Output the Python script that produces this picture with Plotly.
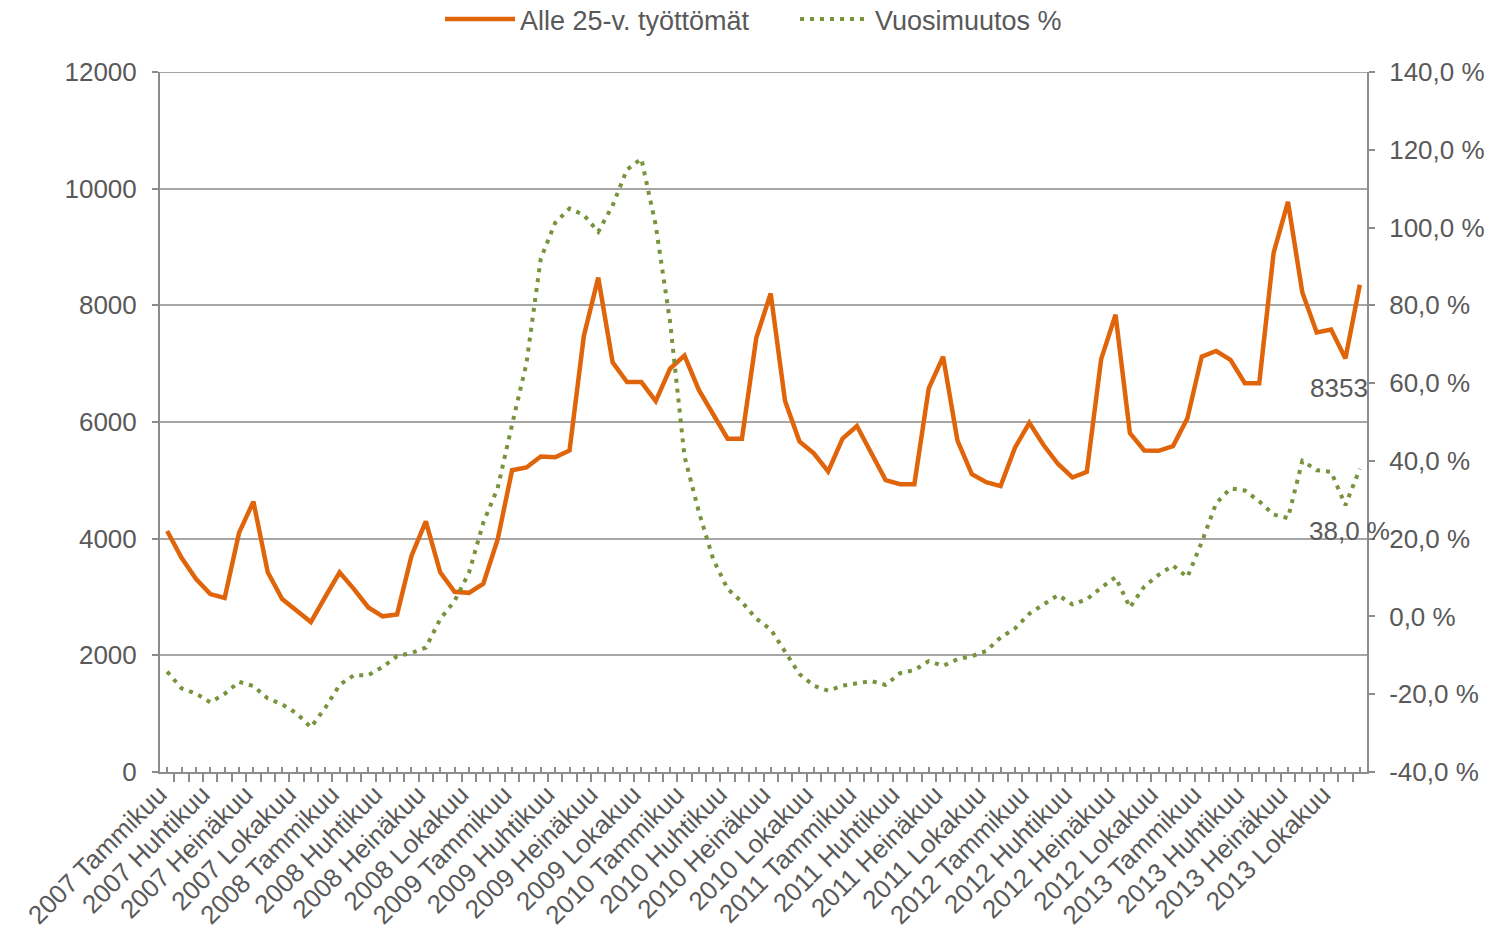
import plotly.graph_objects as go

# ---------------- data ----------------
years = [2007, 2008, 2009, 2010, 2011, 2012, 2013]
month_names = ["Tammikuu", "Helmikuu", "Maaliskuu", "Huhtikuu", "Toukokuu", "Kesäkuu",
               "Heinäkuu", "Elokuu", "Syyskuu", "Lokakuu", "Marraskuu", "Joulukuu"]
categories = [f"{y} {m}" for y in years for m in month_names]

# Alle 25-v. työttömät (left axis)
unemployed = [
    4132, 3673, 3312, 3050, 2984, 4099, 4636, 3423, 2964, 2768, 2571, 3003,
    3423, 3135, 2820, 2669, 2702, 3705, 4295, 3423, 3090, 3071, 3227, 3986,
    5173, 5220, 5410, 5396, 5512, 7478, 8475, 7024, 6685, 6685, 6359, 6915,
    7139, 6549, 6135, 5715, 5715, 7444, 8203, 6359, 5668, 5464, 5152, 5715,
    5932, 5478, 5003, 4935, 4935, 6576, 7119, 5681, 5105, 4969, 4901, 5559,
    5986, 5600, 5280, 5049, 5144, 7078, 7838, 5810, 5512, 5506, 5588, 6063,
    7122, 7217, 7065, 6666, 6666, 8897, 9772, 8219, 7534, 7585, 7090, 8353,
]

# Vuosimuutos % (right axis)
change_pct = [
    -14.2, -18.5, -19.8, -22.1, -19.9, -16.8, -17.9, -21.1, -22.6, -24.9, -28.5, -23.5,
    -17.6, -15.1, -15.1, -13.0, -10.2, -9.4, -8.0, -0.7, 4.0, 11.2, 24.1, 33.0,
    49.3, 65.0, 92.0, 101.2, 104.9, 103.2, 98.9, 105.7, 114.9, 117.7, 100.6, 75.7,
    41.2, 26.9, 14.7, 7.1, 3.7, -0.6, -3.3, -9.2, -14.8, -17.8, -19.1, -17.8,
    -17.1, -16.6, -17.6, -14.6, -13.8, -11.5, -12.7, -11.0, -10.2, -8.9, -5.4, -3.1,
    0.7, 3.0, 5.5, 3.1, 4.4, 7.4, 10.1, 2.3, 7.7, 10.7, 13.1, 10.1,
    19.1, 29.1, 32.9, 32.4, 29.6, 26.2, 25.3, 40.0, 37.6, 37.2, 28.6, 38.0,
]

left_ticks = [0, 2000, 4000, 6000, 8000, 10000, 12000]
right_ticks = [-40, -20, 0, 20, 40, 60, 80, 100, 120, 140]
label_every = 3

# ---------------- styling ----------------
ORANGE = "#E0650A"
GREEN = "#77933C"
TEXT = "#595959"
GRID = "#A6A6A6"
AXIS = "#8C8C8C"
FONT = "Liberation Sans, Arial, sans-serif"
FS = 26

def pct_text(v):
    return f"{v:.1f} %".replace(".", ",")

xidx = list(range(len(categories)))
xtext = [c if i % label_every == 0 else "" for i, c in enumerate(categories)]

fig = go.Figure()
fig.add_trace(go.Scatter(
    x=xidx, y=unemployed, name="Alle 25-v. työttömät", mode="lines",
    line=dict(color=ORANGE, width=4.5), yaxis="y", hoverinfo="skip",
))
fig.add_trace(go.Scatter(
    x=xidx, y=change_pct, name="Vuosimuutos %", mode="lines",
    line=dict(color=GREEN, width=4, dash="4px,6px"), yaxis="y2", hoverinfo="skip",
))

fig.add_annotation(
    x=xidx[-1], y=unemployed[-1], xref="x", yref="y", text=str(unemployed[-1]),
    showarrow=False, xanchor="right", yanchor="middle", xshift=10, yshift=-103,
    font=dict(family=FONT, size=FS, color=TEXT),
)
fig.add_annotation(
    x=xidx[-1], y=change_pct[-1], xref="x", yref="y2", text=pct_text(change_pct[-1]),
    showarrow=False, xanchor="left", yanchor="middle", xshift=-53, yshift=-62,
    font=dict(family=FONT, size=FS, color=TEXT),
)

# top gridline at the upper end of the left axis
fig.add_shape(type="line", xref="paper", x0=0, x1=1, yref="y",
              y0=left_ticks[-1], y1=left_ticks[-1],
              line=dict(color=GRID, width=2), layer="below")

fig.update_layout(
    width=1491, height=929,
    margin=dict(l=160, r=124, t=72, b=157, autoexpand=False),
    paper_bgcolor="white", plot_bgcolor="white",
    font=dict(family=FONT, size=FS, color=TEXT),
    showlegend=True,
    legend=dict(orientation="h", x=0.232, xanchor="left", y=1.11, yanchor="top",
                font=dict(family=FONT, size=27, color=TEXT), itemwidth=70,
                entrywidth=270, entrywidthmode="pixels",
                bgcolor="rgba(0,0,0,0)"),
    xaxis=dict(
        range=[-0.5, len(categories) - 0.5],
        tickmode="array", tickvals=xidx, ticktext=xtext, tickangle=-45,
        ticks="inside", ticklen=5, tickwidth=1.5, tickcolor=AXIS,
        minor=dict(tickmode="array", tickvals=[i - 0.5 for i in range(len(categories) + 1)],
                   ticks="outside", ticklen=8, tickwidth=1.5, tickcolor=AXIS),
        ticklabelshift=-8, ticklabelstandoff=-5,
        showline=True, linecolor=AXIS, linewidth=2,
        showgrid=False, zeroline=False,
        tickfont=dict(family=FONT, size=FS, color=TEXT),
        automargin=False, fixedrange=True,
    ),
    yaxis=dict(
        range=[0, 12000], tickmode="array", tickvals=left_ticks,
        ticktext=[str(v) for v in left_ticks],
        ticks="outside", ticklen=6, tickwidth=1.5, tickcolor=AXIS,
        ticklabelstandoff=10,
        showline=True, linecolor=AXIS, linewidth=2,
        showgrid=True, gridcolor=GRID, gridwidth=2, zeroline=False,
        tickfont=dict(family=FONT, size=FS, color=TEXT),
        automargin=False,
    ),
    yaxis2=dict(
        range=[-40, 140], overlaying="y", side="right", anchor="x",
        tickmode="array", tickvals=right_ticks, ticktext=[pct_text(v) for v in right_ticks],
        ticks="outside", ticklen=6, tickwidth=1.5, tickcolor=AXIS,
        ticklabelstandoff=9,
        showline=True, linecolor=AXIS, linewidth=2,
        showgrid=False, zeroline=False,
        tickfont=dict(family=FONT, size=FS, color=TEXT),
        automargin=False,
    ),
)

fig.write_html("out.html", config={"displayModeBar": False},
               post_script="document.body.style.margin='0';")
